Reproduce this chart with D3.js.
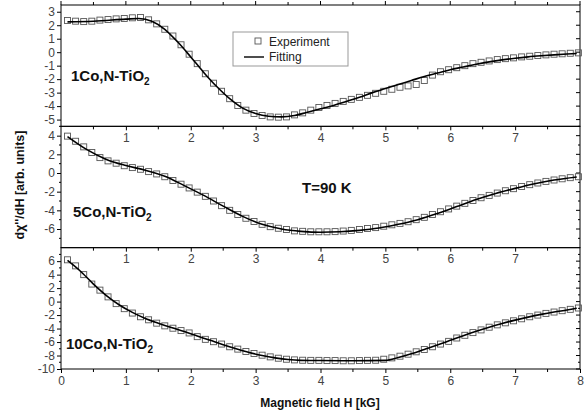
<!DOCTYPE html>
<html>
<head>
<meta charset="utf-8">
<script src="https://cdn.jsdelivr.net/npm/d3@7"></script>
<style>
  body { margin: 0; background: #fff; }
  svg { display: block; font-family: "Liberation Sans", Arial, sans-serif; }
</style>
</head>
<body>
<div id="chart"></div>
<script>
// field positions of the experimental points (kG)
const expX = [0.1,0.225,0.35,0.475,0.6,0.725,0.85,0.975,1.1,1.225,1.35,1.475,1.6,1.725,1.85,1.975,
  2.1,2.225,2.35,2.475,2.6,2.725,2.85,2.975,3.1,3.225,3.35,3.475,3.6,3.725,3.85,3.975,
  4.1,4.225,4.35,4.475,4.6,4.725,4.85,4.975,5.1,5.225,5.35,5.475,5.6,5.725,5.85,5.975,
  6.1,6.225,6.35,6.475,6.6,6.725,6.85,6.975,7.1,7.225,7.35,7.475,7.6,7.725,7.85,7.975];

// 1Co,N-TiO2
const exp1 = [2.35,2.3,2.27,2.3,2.38,2.42,2.47,2.5,2.55,2.57,2.4,2.1,1.7,1.2,0.55,-0.15,
  -0.85,-1.6,-2.3,-2.9,-3.45,-3.95,-4.3,-4.55,-4.7,-4.8,-4.82,-4.8,-4.65,-4.5,-4.3,-4.1,
  -3.95,-3.8,-3.65,-3.5,-3.35,-3.2,-3.05,-2.9,-2.75,-2.6,-2.5,-2.4,-2.1,-1.7,-1.45,-1.3,
  -1.15,-1.0,-0.85,-0.75,-0.65,-0.55,-0.48,-0.42,-0.35,-0.3,-0.25,-0.2,-0.15,-0.12,-0.08,-0.05];
const fitX1 = [0.1,0.5,1.0,1.2,1.4,1.6,1.8,2.0,2.2,2.4,2.6,2.8,3.0,3.2,3.4,3.6,3.8,4.0,4.2,4.4,
  4.6,4.8,5.0,5.2,5.4,5.6,5.8,6.0,6.2,6.4,6.6,6.8,7.0,7.2,7.4,7.6,7.8,7.95];
const fit1 = [2.25,2.3,2.45,2.5,2.3,1.7,0.75,-0.35,-1.5,-2.55,-3.45,-4.15,-4.55,-4.75,-4.8,-4.7,
  -4.45,-4.2,-3.95,-3.65,-3.35,-3.0,-2.7,-2.4,-2.1,-1.8,-1.55,-1.3,-1.1,-0.9,-0.72,-0.57,
  -0.45,-0.35,-0.27,-0.2,-0.14,-0.1];

// 5Co,N-TiO2
const exp5 = [3.95,3.4,2.8,2.2,1.65,1.3,1.05,0.78,0.58,0.4,0.15,-0.1,-0.4,-0.8,-1.2,-1.6,
  -2.05,-2.5,-3.0,-3.5,-4.0,-4.45,-4.85,-5.2,-5.5,-5.75,-5.92,-6.05,-6.2,-6.25,-6.3,-6.3,
  -6.3,-6.28,-6.22,-6.15,-6.05,-5.95,-5.85,-5.7,-5.55,-5.4,-5.22,-5.0,-4.75,-4.45,-4.15,-3.85,
  -3.55,-3.25,-2.95,-2.65,-2.4,-2.15,-1.9,-1.68,-1.45,-1.25,-1.07,-0.9,-0.75,-0.62,-0.5,-0.4];
const fitX5 = [0.1,0.4,0.7,1.0,1.3,1.6,1.9,2.2,2.5,2.8,3.1,3.4,3.7,4.0,4.3,4.6,4.9,5.2,5.5,5.8,
  6.1,6.4,6.7,7.0,7.3,7.6,7.95];
const fit5 = [3.9,2.5,1.45,0.8,0.3,-0.35,-1.35,-2.4,-3.55,-4.65,-5.5,-6.0,-6.25,-6.35,-6.3,-6.15,
  -5.9,-5.5,-5.0,-4.35,-3.6,-2.85,-2.2,-1.65,-1.15,-0.75,-0.42];

// 10Co,N-TiO2
const exp10 = [6.2,5.3,4.0,2.6,1.7,0.7,-0.3,-1.05,-1.7,-2.25,-2.7,-3.2,-3.6,-3.95,-4.3,-4.65,
  -5.2,-5.6,-5.95,-6.3,-6.7,-7.05,-7.4,-7.7,-7.95,-8.2,-8.4,-8.55,-8.65,-8.7,-8.72,-8.72,
  -8.75,-8.75,-8.78,-8.78,-8.75,-8.72,-8.7,-8.55,-8.35,-8.1,-7.8,-7.45,-7.1,-6.7,-6.3,-5.9,
  -5.4,-5.0,-4.6,-4.2,-3.8,-3.45,-3.15,-2.85,-2.55,-2.25,-2.0,-1.75,-1.55,-1.35,-1.15,-0.95];
const fitX10 = [0.1,0.3,0.5,0.7,0.9,1.1,1.3,1.5,1.7,1.9,2.1,2.3,2.5,2.7,2.9,3.1,3.3,3.5,3.7,4.0,
  4.5,5.0,5.2,5.4,5.6,5.8,6.0,6.2,6.4,6.6,6.8,7.0,7.2,7.4,7.6,7.8,7.95];
const fit10 = [6.1,4.5,2.6,0.9,-0.5,-1.6,-2.5,-3.2,-3.85,-4.45,-5.1,-5.75,-6.4,-7.0,-7.55,-8.0,
  -8.35,-8.6,-8.72,-8.75,-8.78,-8.72,-8.3,-7.75,-7.1,-6.45,-5.75,-5.05,-4.4,-3.8,-3.25,-2.75,
  -2.3,-1.9,-1.55,-1.25,-1.0];

const xTicks = [0,1,2,3,4,5,6,7,8];
const xMinor = [0.5,1.5,2.5,3.5,4.5,5.5,6.5,7.5];

const panels = [
  {label: "1Co,N-TiO", exp: exp1, fx: fitX1, fit: fit1, dom: [-5.5, 3.5],
   ticks: [-5,-4,-3,-2,-1,0,1,2,3], minor: [], lx: 71, ly: 81},
  {label: "5Co,N-TiO", exp: exp5, fx: fitX5, fit: fit5, dom: [-8, 5],
   ticks: [-6,-4,-2,0,2,4], minor: [-7,-5,-3,-1,1,3,5], lx: 73, ly: 217},
  {label: "10Co,N-TiO", exp: exp10, fx: fitX10, fit: fit10, dom: [-10, 8],
   ticks: [-10,-8,-6,-4,-2,0,2,4,6], minor: [-9,-7,-5,-3,-1,1,3,5,7], lx: 66, ly: 349}
];

const W = 586, H = 414;
const left = 61, right = 580, top0 = 5, bottom = 369;
const ph = (bottom - top0) / 3;

const svg = d3.select("#chart").append("svg")
  .attr("width", W).attr("height", H);

const x = d3.scaleLinear().domain([0, 8]).range([left, right]);

panels.forEach((p, i) => {
  const y0 = top0 + i * ph, y1 = y0 + ph;
  const y = d3.scaleLinear().domain(p.dom).range([y1, y0]);
  const g = svg.append("g");

  // 框
  g.append("rect")
    .attr("x", left).attr("y", y0)
    .attr("width", right - left).attr("height", ph)
    .attr("fill", "none").attr("stroke", "#000").attr("stroke-width", 1);

  // 左轴
  const ya = g.append("g").attr("transform", `translate(${left},0)`)
    .call(d3.axisLeft(y).tickValues(p.ticks).tickSize(4).tickFormat(d => String(d)));
  ya.select(".domain").remove();
  ya.selectAll("text").attr("font-size", 12).attr("fill", "#444")
    .attr("font-family", "Liberation Sans, Arial, sans-serif").attr("dx", 1);
  g.selectAll(".yminor").data(p.minor).enter().append("line")
    .attr("x1", left - 2).attr("x2", left)
    .attr("y1", d => y(d)).attr("y2", d => y(d)).attr("stroke", "#000");

  // 右轴，刻度朝内
  g.selectAll(".rmaj").data(p.ticks).enter().append("line")
    .attr("x1", right - 4).attr("x2", right)
    .attr("y1", d => y(d)).attr("y2", d => y(d)).attr("stroke", "#000");
  g.selectAll(".rmin").data(p.minor).enter().append("line")
    .attr("x1", right - 2).attr("x2", right)
    .attr("y1", d => y(d)).attr("y2", d => y(d)).attr("stroke", "#000");

  // 底部 x 轴
  const xa = g.append("g").attr("transform", `translate(0,${y1})`)
    .call(d3.axisBottom(x).tickValues(i === 2 ? xTicks : xTicks.slice(1, 8))
      .tickSize(4).tickPadding(3).tickFormat(d => String(d)));
  xa.select(".domain").remove();
  xa.selectAll("text").attr("font-size", 12).attr("fill", "#444")
    .attr("font-family", "Liberation Sans, Arial, sans-serif");
  g.selectAll(".xminor").data(xMinor).enter().append("line")
    .attr("x1", d => x(d)).attr("x2", d => x(d))
    .attr("y1", y1).attr("y2", y1 + 3).attr("stroke", "#000");

  if (i === 0) {
    g.selectAll(".xtop").data(xTicks.concat(xMinor)).enter().append("line")
      .attr("x1", d => x(d)).attr("x2", d => x(d))
      .attr("y1", y0).attr("y2", d => Number.isInteger(d) ? y0 - 4 : y0 - 3)
      .attr("stroke", "#000");
  }

  // 实验点
  const pts = expX.map((v, k) => ({x: v, y: p.exp[k]}));
  g.selectAll(".sq").data(pts).enter().append("rect")
    .attr("x", d => x(d.x) - 3).attr("y", d => y(d.y) - 3)
    .attr("width", 6).attr("height", 6)
    .attr("fill", "none").attr("stroke", "#555").attr("stroke-width", 0.9);

  // 拟合曲线
  const line = d3.line().x(d => x(d[0])).y(d => y(d[1])).curve(d3.curveMonotoneX);
  g.append("path")
    .datum(p.fx.map((v, k) => [v, p.fit[k]]))
    .attr("d", line)
    .attr("fill", "none").attr("stroke", "#000").attr("stroke-width", 1.6);

  // 样品标签
  const t = g.append("text")
    .attr("x", p.lx).attr("y", p.ly)
    .attr("font-size", 15).attr("font-weight", "bold").attr("fill", "#111")
    .text(p.label);
  t.append("tspan").attr("font-size", 10).attr("dy", 4).text("2");
});

// 图例
const lg = svg.append("g");
lg.append("rect").attr("x", 233).attr("y", 32).attr("width", 115).attr("height", 34)
  .attr("fill", "#fff").attr("stroke", "#999").attr("stroke-width", 1);
lg.append("rect").attr("x", 255).attr("y", 38).attr("width", 6).attr("height", 6)
  .attr("fill", "none").attr("stroke", "#555").attr("stroke-width", 0.9);
lg.append("text").attr("x", 269).attr("y", 46).attr("font-size", 12).attr("fill", "#222")
  .text("Experiment");
lg.append("line").attr("x1", 244).attr("x2", 264).attr("y1", 57).attr("y2", 57)
  .attr("stroke", "#000").attr("stroke-width", 1.4);
lg.append("text").attr("x", 269).attr("y", 61).attr("font-size", 12).attr("fill", "#222")
  .text("Fitting");

// 温度
svg.append("text").attr("x", 302).attr("y", 193)
  .attr("font-size", 15).attr("font-weight", "bold").attr("fill", "#111")
  .text("T=90 K");

// 轴标题
svg.append("text")
  .attr("transform", "translate(24,185) rotate(-90)")
  .attr("text-anchor", "middle")
  .attr("font-size", 12.5).attr("font-weight", "bold").attr("fill", "#111")
  .text("dχ''/dH [arb. units]");

svg.append("text")
  .attr("x", 320).attr("y", 407)
  .attr("text-anchor", "middle")
  .attr("font-size", 12).attr("font-weight", "bold").attr("fill", "#111")
  .text("Magnetic field H [kG]");
</script>
</body>
</html>
